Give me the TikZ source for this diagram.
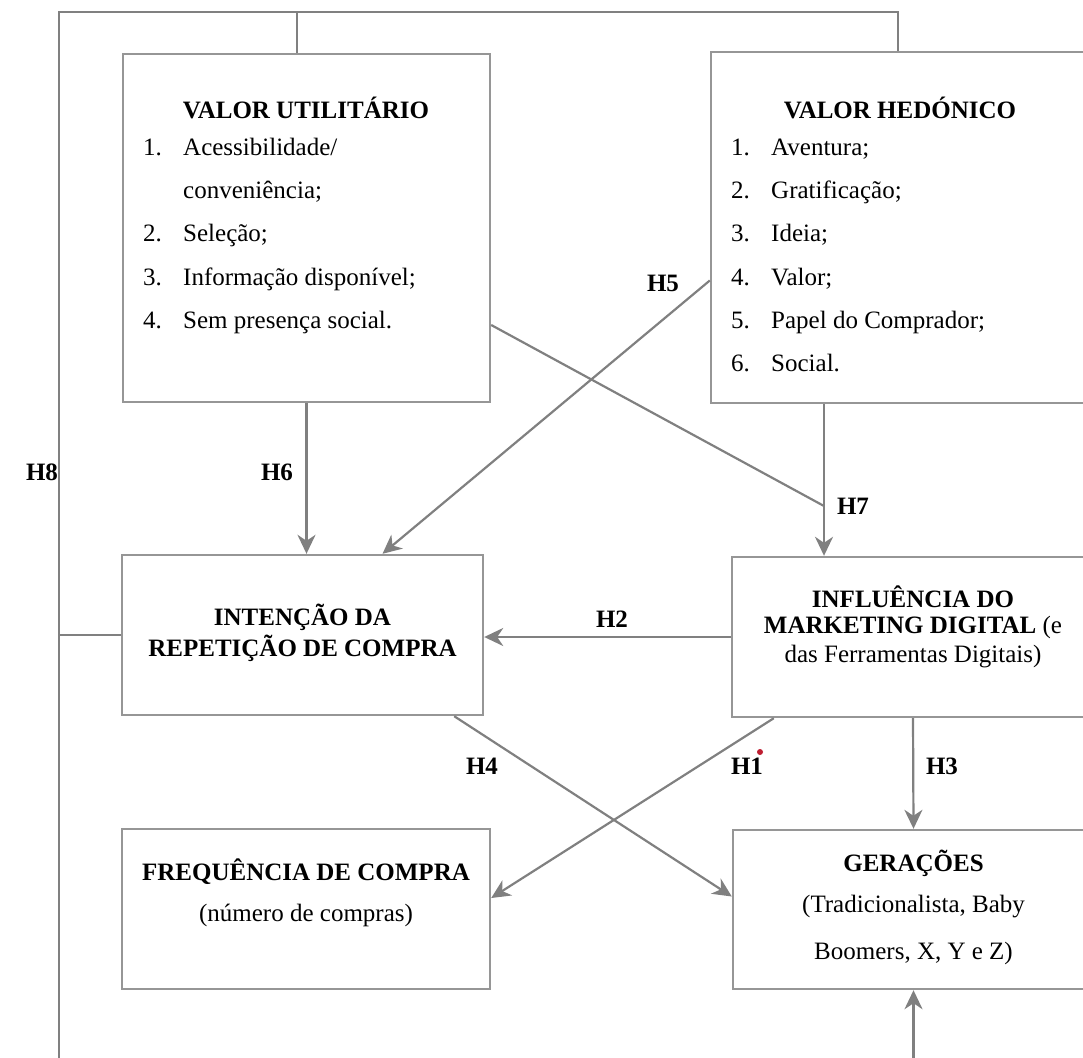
\documentclass[tikz,border=0pt]{standalone}
\usepackage{fontspec}
\setmainfont{Liberation Serif}
\usetikzlibrary{arrows.meta}
\definecolor{edgegray}{RGB}{128,128,128}
\definecolor{boxgray}{RGB}{150,150,150}
\definecolor{dotred}{RGB}{190,30,50}
\begin{document}
\begin{tikzpicture}[x=1pt,y=-1pt,
  box/.style={draw=boxgray, line width=2.4pt, fill=white, inner sep=0pt},
  conn/.style={draw=edgegray, line width=2.2pt},
  arr/.style={conn, -{Stealth[length=19pt,width=18pt,inset=6pt]}},
  txt/.style={font=\fontsize{25}{30}\selectfont, inner sep=0pt},
  hl/.style={font=\fontsize{25}{30}\selectfont\bfseries, inner sep=0pt},
  item/.style={txt, anchor=mid west}]
\useasboundingbox (0,0) rectangle (1083,1057);
% boxes
\node[box, minimum width=367pt, minimum height=348pt] (U) at (306.5,228) {};
\node[box, minimum width=379pt, minimum height=351pt] (H) at (900.5,227.5) {};
\node[box, minimum width=361pt, minimum height=160pt] (I) at (302.5,635) {};
\node[box, minimum width=362pt, minimum height=160pt] (M) at (913,637) {};
\node[box, minimum width=368pt, minimum height=160pt] (F) at (306,909) {};
\node[box, minimum width=361pt, minimum height=159pt] (G) at (913.5,909.5) {};
% frame coordinates
\coordinate (tl) at (59,12);
\coordinate (tu) at (297,12);
\coordinate (tr) at (898,12);
\coordinate (bl) at (59,1062);
\coordinate (br) at (913.5,1062);
\coordinate (j7) at (824,506);
% frame lines
\draw[conn] (bl) -- (tl) -- (tr) -- (tr |- H.north);
\draw[conn] (tu) -- (tu |- U.north);
\draw[conn] (I.west) -- (I.west -| tl);
% hypotheses
\draw[arr] (U.south) -- (U.south |- I.north);
\draw[arr] ([yshift=-53pt]H.west) -- ([xshift=80pt]I.north);
\draw[conn] ([yshift=-97pt]U.east) -- (j7);
\draw[arr] (H.south -| j7) -- (M.north -| j7);
\draw[arr] (M.west) -- (M.west -| I.east);
\draw[arr] ([xshift=-30pt]I.south east) -- ([yshift=13pt]G.west);
\draw[arr] ([xshift=43pt]M.south west) -- ([yshift=11pt]F.east);
\draw[arr] (M.south) -- (G.north);
\draw[arr] (br) -- (G.south);
% hypothesis labels
\node[hl] (h8) at (42,472) {H8};
\node[hl] (h6) at (277,472) {H6};
\node[hl] (h5) at (663,283) {H5};
\node[hl] (h7) at (853,506) {H7};
\node[hl] (h2) at (612,619) {H2};
\node[hl] (h4) at (482,766) {H4};
\node[hl] (h1) at (747,766) {H1};
\node[hl] (h3) at (942,766) {H3};
\fill[dotred] (760,752) circle (3pt);
% utilitario
\node[hl] (Ut) at (306,108) {VALOR UTILITÁRIO};
\node[item] (U1n) at (143,153) {1.};
\node[item] (U1) at (183,153) {Acessibilidade/};
\node[item] (U1b) at (183,196) {conveniência;};
\node[item] (U2n) at (143,239) {2.};
\node[item] (U2) at (183,239) {Seleção;};
\node[item] (U3n) at (143,283) {3.};
\node[item] (U3) at (183,283) {Informação disponível;};
\node[item] (U4n) at (143,326) {4.};
\node[item] (U4) at (183,326) {Sem presença social.};
% hedonico
\node[hl] (Ht) at (900,108) {VALOR HEDÓNICO};
\node[item] (H1n) at (731,153) {1.};
\node[item] (H1) at (771,153) {Aventura;};
\node[item] (H2n) at (731,196) {2.};
\node[item] (H2) at (771,196) {Gratificação;};
\node[item] (H3n) at (731,239) {3.};
\node[item] (H3) at (771,239) {Ideia;};
\node[item] (H4n) at (731,283) {4.};
\node[item] (H4) at (771,283) {Valor;};
\node[item] (H5n) at (731,326) {5.};
\node[item] (H5) at (771,326) {Papel do Comprador;};
\node[item] (H6n) at (731,369) {6.};
\node[item] (H6) at (771,369) {Social.};
% intencao
\node[hl] (It1) at (302.5,617) {INTENÇÃO DA};
\node[hl] (It2) at (302.5,648) {REPETIÇÃO DE COMPRA};
% influencia
\node[hl] (Mt1) at (913,597) {INFLUÊNCIA DO};
\node[txt] (Mt2) at (913,627) {\textbf{MARKETING DIGITAL} (e};
\node[txt] (Mt3) at (913,657) {das Ferramentas Digitais)};
% frequencia
\node[hl] (Ft1) at (306,872) {FREQUÊNCIA DE COMPRA};
\node[txt] (Ft2) at (306,915) {(número de compras)};
% geracoes
\node[hl] (Gt1) at (913.5,863) {GERAÇÕES};
\node[txt] (Gt2) at (913.5,907) {(Tradicionalista, Baby};
\node[txt] (Gt3) at (913.5,953) {Boomers, X, Y e Z)};
\end{tikzpicture}
\end{document}
